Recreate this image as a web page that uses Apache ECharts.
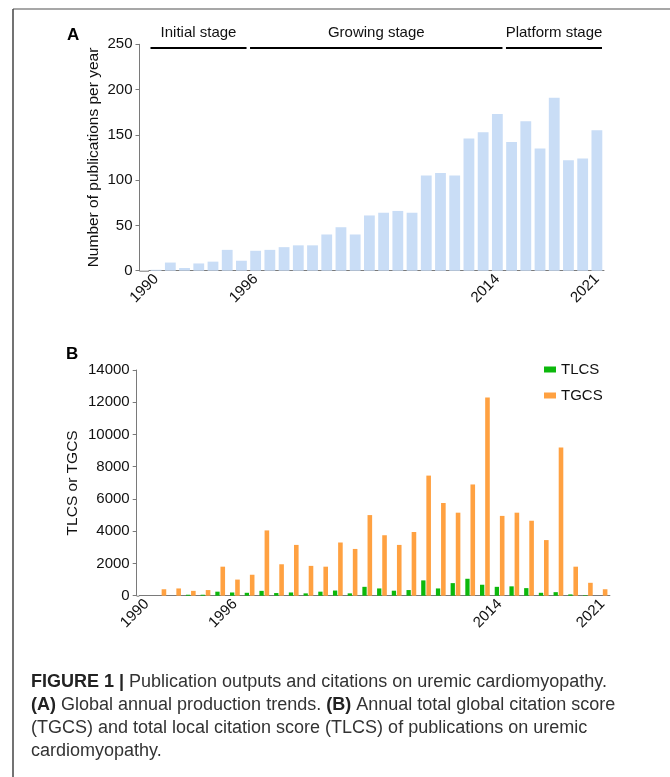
<!DOCTYPE html>
<html>
<head>
<meta charset="utf-8">
<script src="https://cdn.jsdelivr.net/npm/echarts@6/dist/echarts.min.js"></script>
<style>
html,body{margin:0;padding:0;background:#fff;}
#main{width:670px;height:777px;}
</style>
</head>
<body>
<div id="main"></div>
<script>
// ---------- data ----------
var years = [1990,1991,1992,1993,1994,1995,1996,1997,1998,1999,2000,2001,2002,2003,2004,2005,2006,2007,2008,2009,2010,2011,2012,2013,2014,2015,2016,2017,2018,2019,2020,2021];
var publications = [1,9,3,8,10,23,11,22,23,26,28,28,40,48,40,61,64,66,64,105,108,105,146,153,173,142,165,135,191,122,124,155];
var tlcs = [0,0,0,60,60,250,200,180,300,165,200,145,250,320,145,550,450,310,350,950,450,780,1050,680,550,580,470,180,220,80,30,0];
var tgcs = [0,400,450,300,350,1800,1000,1300,4050,1950,3150,1850,1800,3300,2900,5000,3750,3150,3950,7450,5750,5150,6900,12300,4950,5150,4650,3450,9200,1800,800,400];
var tickIdxA = [0,7,24,31];
var tickTextA = ['1990','1996','2014','2021'];
var tickIdxB = [0,6,24,31];
var tickTextB = ['1990','1996','2014','2021'];
var stageNames = ['Initial stage','Growing stage','Platform stage'];
var stageStart = [0,7,25];
var stageEnd = [6,24,31];
var captionLines = [
  '{b|FIGURE 1 |} Publication outputs and citations on uremic cardiomyopathy.',
  '{b|(A)} Global annual production trends. {b|(B)} Annual total global citation score',
  '(TGCS) and total local citation score (TLCS) of publications on uremic',
  'cardiomyopathy.'
];

var FONT = 'Liberation Sans';
var AX = '#7a7a7a';
function labelFmt(idxs, texts){
  return function(v, i){ var k = idxs.indexOf(i); return k >= 0 ? texts[k] : ''; };
}
var chart = echarts.init(document.getElementById('main'), null, {renderer:'canvas'});
var option = {
  animation:false,
  textStyle:{fontFamily:FONT},
  grid:[
    {left:149, top:44.3, width:455, height:226.4, containLabel:false},
    {left:139.3, top:370, width:470.6, height:225.7, containLabel:false}
  ],
  legend:{
    data:['TLCS','TGCS'],
    orient:'vertical', left:539, top:357,
    itemWidth:12, itemHeight:6, itemGap:11,
    icon:'rect',
    textStyle:{fontFamily:FONT, fontSize:15, color:'#111'}
  },
  xAxis:[
    {type:'category', gridIndex:0, data:years,
     axisLine:{lineStyle:{color:AX, width:1}},
     axisTick:{alignWithLabel:true, interval:0, length:4, lineStyle:{color:AX}},
     axisLabel:{interval:0, rotate:45, margin:6, fontSize:15, color:'#111', fontFamily:FONT, formatter:labelFmt(tickIdxA,tickTextA)}
    },
    {type:'category', gridIndex:1, data:years,
     axisLine:{lineStyle:{color:AX, width:1}},
     axisTick:{alignWithLabel:true, interval:0, length:4, lineStyle:{color:AX}},
     axisLabel:{interval:0, rotate:45, margin:6, fontSize:15, color:'#111', fontFamily:FONT, formatter:labelFmt(tickIdxB,tickTextB)}
    }
  ],
  yAxis:[
    {type:'value', gridIndex:0, min:0, max:250, interval:50, offset:9.5,
     name:'Number of publications per year', nameLocation:'middle', nameGap:38, nameMoveOverlap:false,
     nameTextStyle:{fontSize:15.5, color:'#111', fontFamily:FONT},
     axisLine:{show:true, lineStyle:{color:AX}},
     axisTick:{show:true, length:4, lineStyle:{color:AX}},
     splitLine:{show:false},
     axisLabel:{fontSize:15, color:'#111', margin:7, fontFamily:FONT}
    },
    {type:'value', gridIndex:1, min:0, max:14000, interval:2000, offset:2.6,
     name:'TLCS or TGCS', nameLocation:'middle', nameGap:56, nameMoveOverlap:false,
     nameTextStyle:{fontSize:15.5, color:'#111', fontFamily:FONT},
     axisLine:{show:true, lineStyle:{color:AX}},
     axisTick:{show:true, length:4, lineStyle:{color:AX}},
     splitLine:{show:false},
     axisLabel:{fontSize:15, color:'#111', margin:7, fontFamily:FONT, formatter:function(v){return String(v);}}
    }
  ],
  series:[
    {name:'Publications', type:'bar', xAxisIndex:0, yAxisIndex:0, data:publications,
     barCategoryGap:'24%', itemStyle:{color:'#c9ddf6'}},
    {name:'TLCS', type:'bar', xAxisIndex:1, yAxisIndex:1, data:tlcs,
     barWidth:4.3, barGap:'20%', itemStyle:{color:'#0cb80c'}},
    {name:'TGCS', type:'bar', xAxisIndex:1, yAxisIndex:1, data:tgcs,
     barWidth:4.6, barGap:'20%', itemStyle:{color:'#ffa141'}}
  ]
};
chart.setOption(option);

// ---------- annotations positioned from the axes ----------
var gfx = [];
var p0 = chart.convertToPixel({xAxisIndex:0, yAxisIndex:0}, [0,0]);
var p1 = chart.convertToPixel({xAxisIndex:0, yAxisIndex:0}, [1,0]);
var stepA = p1[0]-p0[0];
for (var s=0; s<stageNames.length; s++){
  var xa = chart.convertToPixel({xAxisIndex:0}, stageStart[s]) - stepA/2 + 1.5;
  var xb = chart.convertToPixel({xAxisIndex:0}, stageEnd[s]) + stepA/2 - 2;
  gfx.push({type:'line', shape:{x1:xa, y1:48, x2:xb, y2:48}, style:{stroke:'#000', lineWidth:2}});
  gfx.push({type:'text', x:(xa+xb)/2, y:33, style:{text:stageNames[s], fontFamily:FONT, fontSize:15, fill:'#111', align:'center', verticalAlign:'middle'}});
}
// x axis line of panel A reaching the offset y axis
gfx.push({type:'line', shape:{x1:149-9.5, y1:p0[1]+0.5, x2:149, y2:p0[1]+0.5}, style:{stroke:AX, lineWidth:1}});
var q0 = chart.convertToPixel({xAxisIndex:1, yAxisIndex:1}, [0,0]);
gfx.push({type:'line', shape:{x1:139.3-2.6, y1:q0[1]+0.5, x2:139.3, y2:q0[1]+0.5}, style:{stroke:AX, lineWidth:1}});
// panel letters
gfx.push({type:'text', x:67, y:35, style:{text:'A', fontFamily:FONT, fontSize:17, fontWeight:'bold', fill:'#000', verticalAlign:'middle'}});
gfx.push({type:'text', x:66, y:354, style:{text:'B', fontFamily:FONT, fontSize:17, fontWeight:'bold', fill:'#000', verticalAlign:'middle'}});
// frame
gfx.push({type:'line', shape:{x1:13, y1:9, x2:670, y2:9}, style:{stroke:'#8a8a8a', lineWidth:1.5}});
gfx.push({type:'line', shape:{x1:13, y1:9, x2:13, y2:777}, style:{stroke:'#444', lineWidth:1.5}});
// caption
gfx.push({type:'text', x:31, y:671, style:{
  text:captionLines.join('\n'), fontFamily:FONT, fontSize:18, fill:'#333', lineHeight:23, verticalAlign:'top',
  rich:{b:{fontWeight:'bold', fontFamily:FONT, fontSize:18, fill:'#222', lineHeight:23}}
}});
chart.setOption({graphic:gfx});
</script>
</body>
</html>
